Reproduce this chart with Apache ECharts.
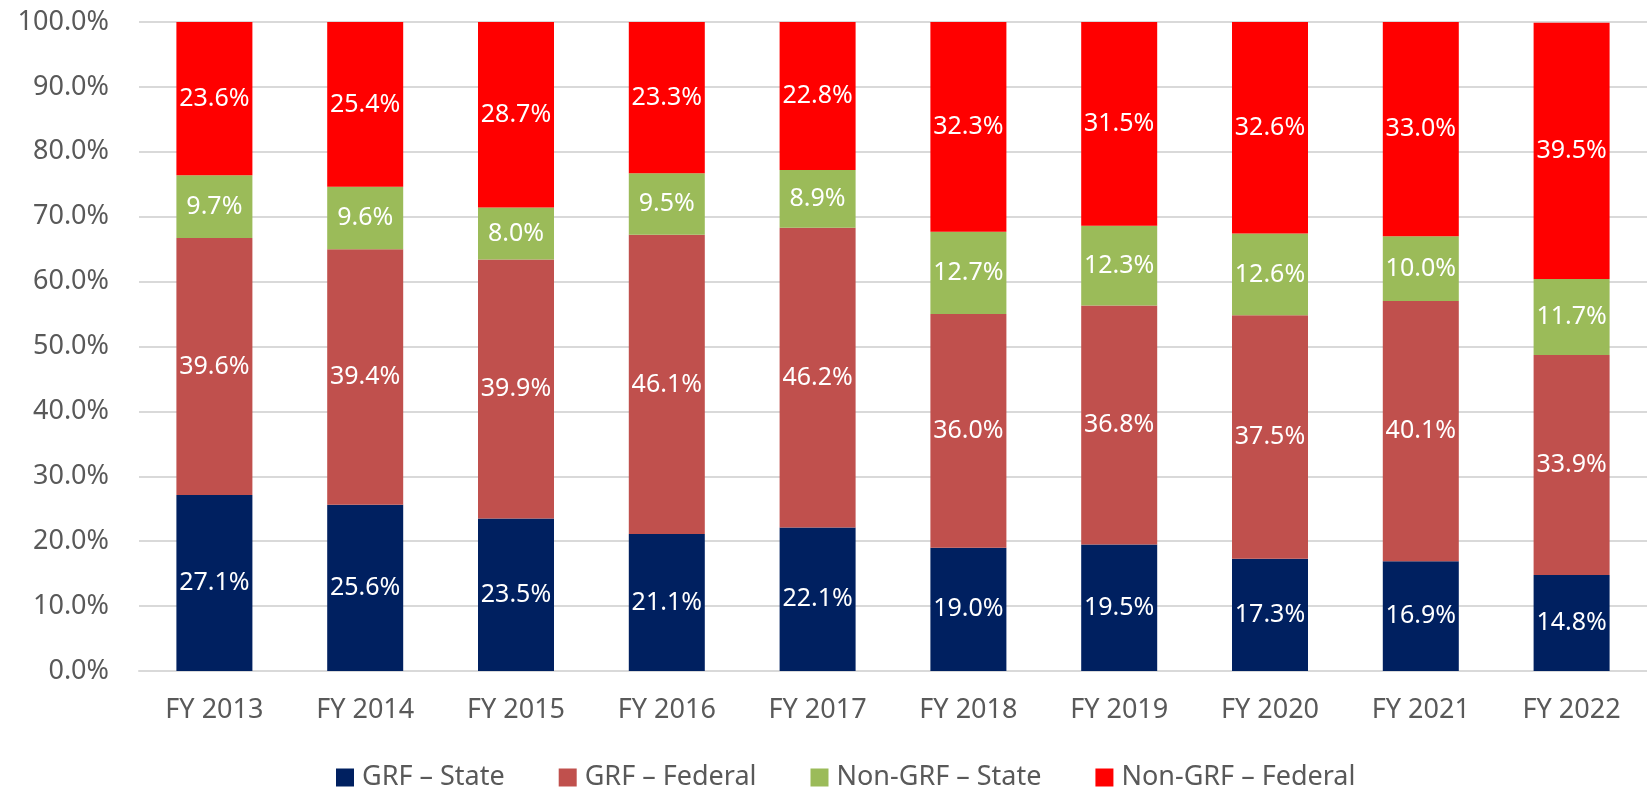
<!DOCTYPE html>
<html>
    <head>
        <meta charset="utf-8">
        <script src="https://cdn.jsdelivr.net/npm/echarts@6/dist/echarts.min.js"></script>
        <style>
            html, body {
                margin: 0;
                padding: 0;
                background: #fff;
            }
            #main {
                width: 1647px;
                height: 790px;
            }
        </style>
    </head>
    <body>
        <div id="main"></div>
        <script>
            var years = ['FY 2013', 'FY 2014', 'FY 2015', 'FY 2016', 'FY 2017',
                         'FY 2018', 'FY 2019', 'FY 2020', 'FY 2021', 'FY 2022'];

            var grfState      = [27.1, 25.6, 23.5, 21.1, 22.1, 19.0, 19.5, 17.3, 16.9, 14.8];
            var grfFederal    = [39.6, 39.4, 39.9, 46.1, 46.2, 36.0, 36.8, 37.5, 40.1, 33.9];
            var nonGrfState   = [9.7, 9.6, 8.0, 9.5, 8.9, 12.7, 12.3, 12.6, 10.0, 11.7];
            var nonGrfFederal = [23.6, 25.4, 28.7, 23.3, 22.8, 32.3, 31.5, 32.6, 33.0, 39.5];

            var seriesNames = ['GRF – State', 'GRF – Federal', 'Non-GRF – State', 'Non-GRF – Federal'];
            var seriesData = [grfState, grfFederal, nonGrfState, nonGrfFederal];
            var colors = ['#002060', '#C0504D', '#9BBB59', '#FF0000'];

            var font = 'Noto Sans, Open Sans, sans-serif';

            var chart = echarts.init(document.getElementById('main'));

            var series = [];
            for (var i = 0; i < seriesNames.length; i++) {
                series.push({
                    name: seriesNames[i],
                    type: 'bar',
                    stack: 'total',
                    barWidth: 76,
                    data: seriesData[i],
                    itemStyle: {color: colors[i]},
                    label: {
                        show: true,
                        position: 'inside',
                        color: '#fff',
                        fontFamily: font,
                        fontSize: 25,
                        formatter: function (p) {
                            return p.value.toFixed(1) + '%';
                        }
                    }
                });
            }

            chart.setOption({
                animation: false,
                color: colors,
                grid: {
                    left: 139,
                    top: 22,
                    width: 1523,
                    bottom: 119
                },
                legend: {
                    data: seriesNames,
                    left: 331,
                    top: 759,
                    icon: 'rect',
                    itemWidth: 18,
                    itemHeight: 18,
                    itemGap: 54,
                    textStyle: {
                        color: '#595959',
                        fontFamily: font,
                        fontSize: 27,
                        padding: [0, 0, 0, 3]
                    }
                },
                xAxis: {
                    type: 'category',
                    data: years,
                    axisLine: {lineStyle: {color: '#D9D9D9', width: 2}},
                    axisTick: {show: false},
                    axisLabel: {
                        color: '#595959',
                        fontFamily: font,
                        fontSize: 27,
                        margin: 26
                    }
                },
                yAxis: {
                    type: 'value',
                    min: 0,
                    max: 100,
                    interval: 10,
                    axisLine: {show: false},
                    axisTick: {show: false},
                    splitLine: {lineStyle: {color: '#D9D9D9', width: 2}},
                    axisLabel: {
                        color: '#595959',
                        fontFamily: font,
                        fontSize: 27,
                        margin: 30,
                        formatter: function (v) {
                            return v.toFixed(1) + '%';
                        }
                    }
                },
                series: series
            });
        </script>
    </body>
</html>
